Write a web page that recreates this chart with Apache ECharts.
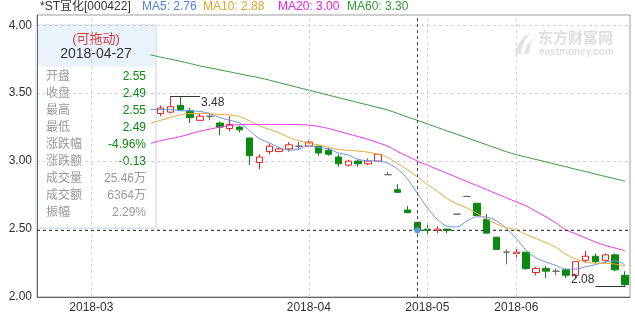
<!DOCTYPE html>
<html>
<head>
<meta charset="UTF-8">
<title></title>
<style type="text/css">
	* { margin: 0; padding: 0; }
	#kline { width: 635px; height: 318px; background: #fff; }
</style>
</head>
<body>
<div id="kline"></div>
<script src="https://cdn.jsdelivr.net/npm/echarts/dist/echarts.min.js"></script>
<script type="text/javascript">
// 60 trading days, the first 12 sit under the info box
var categories = [];
for (var c = 0; c < 60; c++) categories.push(String(c));
var tickIndex = [5, 27, 39, 48];
var tickLabels = ['2018-03', '2018-04', '2018-05', '2018-06'];

var openP = ['-','-','-','-','-','-','-','-','-','-','-','-',
	3.35,3.36,3.41,3.37,3.30,3.33,3.28,3.24,3.25,3.17,
	2.99,3.07,3.07,3.09,3.11,3.11,3.11,3.08,3.03,2.97,
	3.00,2.98,3.00,2.90,2.79,2.64,2.55,2.50,2.49,2.50,
	2.61,2.74,2.69,2.57,2.44,2.33,2.32,2.33,2.18,2.21,
	2.19,2.20,2.16,2.27,2.30,2.27,2.31,2.16];
var closeP = ['-','-','-','-','-','-','-','-','-','-','-','-',
	3.39,3.40,3.38,3.32,3.33,3.33,3.25,3.27,3.23,3.04,
	3.03,3.11,3.09,3.12,3.11,3.14,3.06,3.05,2.98,3.00,
	2.98,3.00,3.05,2.90,2.77,2.62,2.49,2.49,2.50,2.49,
	2.61,2.74,2.60,2.47,2.35,2.33,2.33,2.21,2.21,2.19,
	2.19,2.16,2.26,2.30,2.26,2.31,2.20,2.09];
var lowP = ['-','-','-','-','-','-','-','-','-','-','-','-',
	3.33,3.35,3.37,3.28,3.30,3.30,3.19,3.22,3.21,2.97,
	2.94,3.05,3.07,3.07,3.08,3.11,3.04,3.04,2.96,2.96,
	2.96,2.97,3.00,2.90,2.77,2.62,2.49,2.44,2.47,2.47,
	2.61,2.74,2.60,2.47,2.35,2.24,2.29,2.20,2.16,2.14,
	2.16,2.14,2.14,2.25,2.25,2.25,2.19,2.08];
var highP = ['-','-','-','-','-','-','-','-','-','-','-','-',
	3.41,3.48,3.48,3.39,3.35,3.35,3.29,3.33,3.26,3.17,
	3.05,3.13,3.10,3.14,3.14,3.15,3.11,3.10,3.05,3.01,
	3.01,3.02,3.05,2.92,2.83,2.67,2.55,2.53,2.52,2.50,
	2.61,2.74,2.69,2.61,2.44,2.35,2.36,2.33,2.22,2.23,
	2.21,2.21,2.26,2.34,2.32,2.32,2.32,2.19];

var ma5 = ['-','-','-','-','-','-','-','-','-','-','-',
	3.38,3.38,3.38,3.37,3.37,3.365,3.35,3.32,3.30,3.28,
	3.225,3.165,3.135,3.10,3.08,3.09,3.115,3.10,3.09,3.06,
	3.045,3.012,3.003,3.00,2.985,2.94,2.868,2.762,2.655,2.572,
	2.52,2.516,2.56,2.59,2.588,2.56,2.505,2.43,2.342,2.288,
	2.258,2.232,2.205,2.205,2.222,2.238,2.258,2.266,2.235];
var ma10 = ['-','-','-','-','-','-','-','-','-','-','-',
	3.28,3.30,3.32,3.34,3.35,3.35,3.348,3.344,3.34,3.328,
	3.295,3.26,3.234,3.208,3.175,3.149,3.13,3.12,3.10,3.085,
	3.08,3.074,3.065,3.05,3.026,2.98,2.935,2.884,2.827,2.778,
	2.724,2.686,2.655,2.615,2.575,2.537,2.51,2.492,2.46,2.43,
	2.40,2.365,2.315,2.278,2.258,2.248,2.248,2.242,2.225];
var ma20 = ['-','-','-','-','-','-','-','-','-','-','-',
	3.13,3.15,3.165,3.18,3.20,3.22,3.235,3.25,3.262,3.268,
	3.27,3.27,3.27,3.27,3.27,3.268,3.265,3.255,3.24,3.22,
	3.20,3.18,3.16,3.135,3.11,3.07,3.035,3.00,2.97,2.94,
	2.91,2.88,2.85,2.82,2.79,2.76,2.73,2.70,2.67,2.63,
	2.59,2.545,2.495,2.465,2.435,2.405,2.38,2.36,2.34];
var ma60 = ['-','-','-','-','-','-','-','-','-','-','-',
	3.782,3.765,3.75,3.734,3.718,3.70,3.686,3.671,3.657,3.642,
	3.627,3.613,3.596,3.577,3.559,3.54,3.522,3.504,3.485,3.467,
	3.449,3.43,3.413,3.394,3.376,3.35,3.324,3.30,3.273,3.248,
	3.222,3.197,3.171,3.146,3.12,3.095,3.069,3.047,3.029,3.012,
	2.994,2.976,2.959,2.94,2.923,2.905,2.887,2.87,2.852];

// day picked by the cross cursor
var hoverIdx = 38;
var hoverDate = '2018-04-27';
var infoNames = ['开盘', '收盘', '最高', '最低', '涨跌幅', '涨跌额', '成交量', '成交额', '振幅'];
var infoValues = ['2.55', '2.49', '2.55', '2.49', '-4.96%', '-0.13', '25.46万', '6364万', '2.29%'];
var infoColored = [true, true, true, true, true, true, false, false, false];

var UP = '#e8221f', DOWN = '#0b8a12', FLAT = '#666666';
var FONT = 'Arial, "Noto Sans CJK SC", sans-serif';

var candles = [];
var hiIdx = -1, loIdx = -1;
for (var i = 0; i < openP.length; i++) {
	if (openP[i] === '-') { candles.push(['-', '-', '-', '-']); continue; }
	var item = { value: [openP[i], closeP[i], lowP[i], highP[i]] };
	if (openP[i] === closeP[i]) {
		item.itemStyle = { color: FLAT, color0: FLAT, borderColor: FLAT, borderColor0: FLAT };
	}
	candles.push(item);
	if (hiIdx < 0 || highP[i] > highP[hiIdx]) hiIdx = i;
	if (loIdx < 0 || lowP[i] < lowP[loIdx]) loIdx = i;
}

var marks = [];
// month grid lines
for (var t = 0; t < tickIndex.length; t++) {
	marks.push({ xAxis: tickIndex[t], lineStyle: { color: '#d2d2d2', type: [3, 3], width: 1 }, label: { show: false } });
}
// cross cursor
marks.push({ xAxis: hoverIdx, lineStyle: { color: '#444', type: [3, 3], width: 1 }, label: { show: false } });
marks.push({ yAxis: closeP[hoverIdx], lineStyle: { color: '#444', type: [3, 3], width: 1 }, label: { show: false } });
// highest / lowest markers
marks.push([
	{ coord: [hiIdx, highP[hiIdx]], lineStyle: { color: '#333', type: 'solid', width: 1 },
		label: { show: true, position: 'end', formatter: highP[hiIdx].toFixed(2), color: '#333', fontSize: 12, fontFamily: FONT, distance: 1, offset: [0, 7] } },
	{ coord: [hiIdx + 3, highP[hiIdx]] }
]);
marks.push([
	{ coord: [loIdx - 3, lowP[loIdx]], lineStyle: { color: '#333', type: 'solid', width: 1 },
		label: { show: true, position: 'start', formatter: lowP[loIdx].toFixed(2), color: '#333', fontSize: 12, fontFamily: FONT, distance: 1, offset: [0, -6] } },
	{ coord: [loIdx, lowP[loIdx]] }
]);

function maLine(name, data, color) {
	return {
		name: name,
		type: 'line',
		data: data,
		smooth: 0.3,
		symbol: 'none',
		silent: true,
		lineStyle: { color: color, width: 1 },
		z: 3
	};
}

// info box at the left
var box = [];
box.push({ type: 'rect', shape: { x: 0, y: 0, width: 120, height: 203 }, style: { fill: '#fff', stroke: '#c3d2e4', lineWidth: 1 } });
box.push({ type: 'rect', shape: { x: 0.5, y: 0.5, width: 119, height: 41 }, style: { fill: '#eaf2fb' } });
box.push({ type: 'text', x: 60, y: 14, style: { text: '(可拖动)', fill: '#e0383c', fontSize: 13, fontFamily: FONT, align: 'center', verticalAlign: 'middle' } });
box.push({ type: 'text', x: 60, y: 29, style: { text: hoverDate, fill: '#333', fontSize: 14, fontFamily: FONT, align: 'center', verticalAlign: 'middle' } });
for (var r = 0; r < infoNames.length; r++) {
	box.push({ type: 'text', x: 10, y: 52 + 17 * r, style: { text: infoNames[r], fill: '#999', fontSize: 12, fontFamily: FONT, align: 'left', verticalAlign: 'middle' } });
	box.push({ type: 'text', x: 110, y: 52 + 17 * r, style: { text: infoValues[r], fill: infoColored[r] ? DOWN : '#999', fontSize: 12, fontFamily: FONT, align: 'right', verticalAlign: 'middle' } });
}

var headTexts = [
	{ x: 40, text: '*ST宜化[000422]', color: '#333' },
	{ x: 142, text: 'MA5: ' + ma5[hoverIdx].toFixed(2), color: '#4f7fe6' },
	{ x: 203, text: 'MA10: ' + ma10[hoverIdx].toFixed(2), color: '#e3a02b' },
	{ x: 278, text: 'MA20: ' + ma20[hoverIdx].toFixed(2), color: '#ee1bee' },
	{ x: 347, text: 'MA60: ' + ma60[hoverIdx].toFixed(2), color: '#2f9a33' }
];
var graphics = [];
for (var h = 0; h < headTexts.length; h++) {
	graphics.push({ type: 'text', x: headTexts[h].x, y: 7, z: 100,
		style: { text: headTexts[h].text, fill: headTexts[h].color, fontSize: 12, fontFamily: FONT, align: 'left', verticalAlign: 'middle' } });
}
// watermark
graphics.push({ type: 'polygon', x: 513, y: 32, z: 1, shape: { points: [[2, 22], [5, 12], [11, 5], [18, 0], [12, 8], [9, 15], [8, 22]] }, style: { fill: '#e2e2e2' } });
graphics.push({ type: 'polygon', x: 513, y: 32, z: 1, shape: { points: [[11, 22], [14, 13], [22, 6], [17, 13], [16, 22]] }, style: { fill: '#e2e2e2' } });
graphics.push({ type: 'text', x: 538, y: 31, z: 1, style: { text: '东方财富网', fill: '#dedede', fontSize: 15, fontWeight: 'bold', fontFamily: FONT } });
graphics.push({ type: 'text', x: 539, y: 47, z: 1, style: { text: 'eastmoney.com', fill: '#dedede', fontSize: 10, fontWeight: 'bold', fontFamily: FONT } });
graphics.push({ type: 'group', x: 36, y: 25, z: 100, children: box });

var myChart = echarts.init(document.getElementById('kline'));
myChart.setOption({
	animation: false,
	backgroundColor: '#fff',
	textStyle: { fontFamily: FONT },
	grid: { left: 37, right: 5, top: 15, bottom: 21, show: true, borderColor: '#999', borderWidth: 1, containLabel: false },
	xAxis: {
		type: 'category',
		data: categories,
		boundaryGap: true,
		axisLine: { lineStyle: { color: '#666' } },
		axisTick: { show: false },
		splitLine: { show: false },
		axisLabel: {
			interval: function(idx) { return tickIndex.indexOf(idx) >= 0; },
			formatter: function(v, idx) {
				var j = tickIndex.indexOf(idx);
				return j >= 0 ? tickLabels[j] : '';
			},
			color: '#333', fontSize: 12, margin: 5, fontFamily: FONT
		}
	},
	yAxis: {
		type: 'value',
		min: 2,
		max: 4.075,
		interval: 0.5,
		axisLine: { show: true, lineStyle: { color: '#666' } },
		axisTick: { show: false },
		axisLabel: {
			color: '#333', fontSize: 12, margin: 5, fontFamily: FONT, showMaxLabel: false,
			formatter: function(v) { return v.toFixed(2); }
		},
		splitLine: { lineStyle: { color: '#d2d2d2', type: [3, 3] } }
	},
	series: [
		{
			name: 'K',
			type: 'candlestick',
			data: candles,
			barWidth: 7,
			itemStyle: {
				color: '#fff', color0: DOWN,
				borderColor: UP, borderColor0: DOWN, borderColorDoji: FLAT,
				borderWidth: 1
			},
			markLine: { silent: true, symbol: ['none', 'none'], animation: false, data: marks },
			markPoint: {
				silent: true, animation: false,
				data: [{ coord: [hoverIdx, closeP[hoverIdx]], symbol: 'circle', symbolSize: 6, itemStyle: { color: '#5d9be0' }, label: { show: false } }]
			}
		},
		maLine('MA5', ma5, '#6b93e6'),
		maLine('MA10', ma10, '#e6a93c'),
		maLine('MA20', ma20, '#ee33ee'),
		maLine('MA60', ma60, '#3b9a3b')
	],
	graphic: graphics
});
</script>
</body>
</html>
